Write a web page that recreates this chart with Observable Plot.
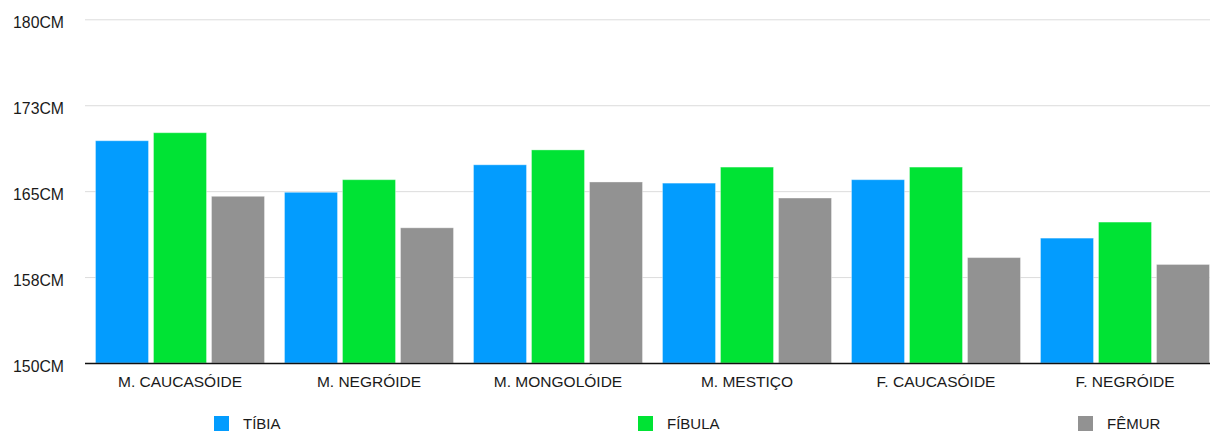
<!DOCTYPE html>
<html>
<head>
<meta charset="utf-8">
<script src="https://cdn.jsdelivr.net/npm/d3@7"></script>
<script src="https://cdn.jsdelivr.net/npm/@observablehq/plot@0.6"></script>
<style>
  html, body { margin: 0; padding: 0; background: #fff; }
  body { width: 1210px; height: 432px; overflow: hidden; font-family: "Liberation Sans", Arial, sans-serif; }
  #chart svg { display: block; }
  #legend { position: relative; width: 1210px; height: 32px; }
  #legend .sw { position: absolute; width: 15px; height: 15px; top: 16px; }
  #legend .lb { position: absolute; top: 15px; font-size: 15px; line-height: 17px; color: #1a1a1a; }
</style>
</head>
<body>
<div id="chart"></div>
<div id="legend"></div>
<script>
// ---- data ----
const groups = ["M. CAUCASÓIDE", "M. NEGRÓIDE", "M. MONGOLÓIDE", "M. MESTIÇO", "F. CAUCASÓIDE", "F. NEGRÓIDE"];
const series = ["TÍBIA", "FÍBULA", "FÊMUR"];
const tibia  = [169.4, 164.9, 167.3, 165.7, 166.0, 160.9];
const fibula = [170.1, 166.0, 168.6, 167.1, 167.1, 162.3];
const femur  = [164.55, 161.8, 165.8, 164.4, 159.2, 158.6];
const yTicks = [150, 157.5, 165, 172.5, 180];
const yTickLabels = ["150CM", "158CM", "165CM", "173CM", "180CM"];
const colors = ["#039cfe", "#00e334", "#929292"];

// ---- build table ----
const seriesValues = [tibia, fibula, femur];
const data = [];
groups.forEach((g, gi) => {
  series.forEach((s, si) => {
    data.push({group: g, series: s, value: seriesValues[si][gi]});
  });
});

const base = yTicks[0];

const chart = Plot.plot({
  width: 1210,
  height: 400,
  marginLeft: 83.5,
  marginRight: 0,
  marginTop: 19.3,
  marginBottom: 37,
  style: {fontFamily: "Liberation Sans, Arial, sans-serif", fontSize: "15.5px", color: "#1a1a1a", background: "#fff"},
  fx: {domain: groups, range: [83.5, 1221], padding: 0, label: null},
  x: {domain: series, paddingInner: 0.09, paddingOuter: 0.174, axis: null},
  y: {domain: [yTicks[0], yTicks[yTicks.length - 1]], label: null},
  color: {domain: series, range: colors},
  marks: [
    Plot.gridY(yTicks.slice(1), {stroke: "#dcdcdc", strokeOpacity: 1, strokeWidth: 1}),
    Plot.barY(data, {fx: "group", x: "series", y1: base, y2: "value", fill: "series", stroke: "#ffffff", strokeOpacity: 0.35, strokeWidth: 1}),
    Plot.ruleY([base], {stroke: "#111", strokeWidth: 1.6}),
    Plot.axisY(yTicks, {tickSize: 0, tickPadding: 21.5, dy: 3, fontSize: 15.8, fill: "#1a1a1a",
      tickFormat: d => yTickLabels[yTicks.indexOf(d)], label: null}),
    Plot.axisFx({tickSize: 0, tickPadding: 12, fontSize: 15.5, fill: "#1a1a1a", label: null, anchor: "bottom"})
  ]
});
document.getElementById("chart").appendChild(chart);

// ---- legend ----
const legendLeft = [214, 638, 1078];
const legend = document.getElementById("legend");
series.forEach((s, i) => {
  const sw = document.createElement("div");
  sw.className = "sw";
  sw.style.left = legendLeft[i] + "px";
  sw.style.background = colors[i];
  legend.appendChild(sw);
  const lb = document.createElement("div");
  lb.className = "lb";
  lb.style.left = (legendLeft[i] + 29) + "px";
  lb.textContent = s;
  legend.appendChild(lb);
});
</script>
</body>
</html>
